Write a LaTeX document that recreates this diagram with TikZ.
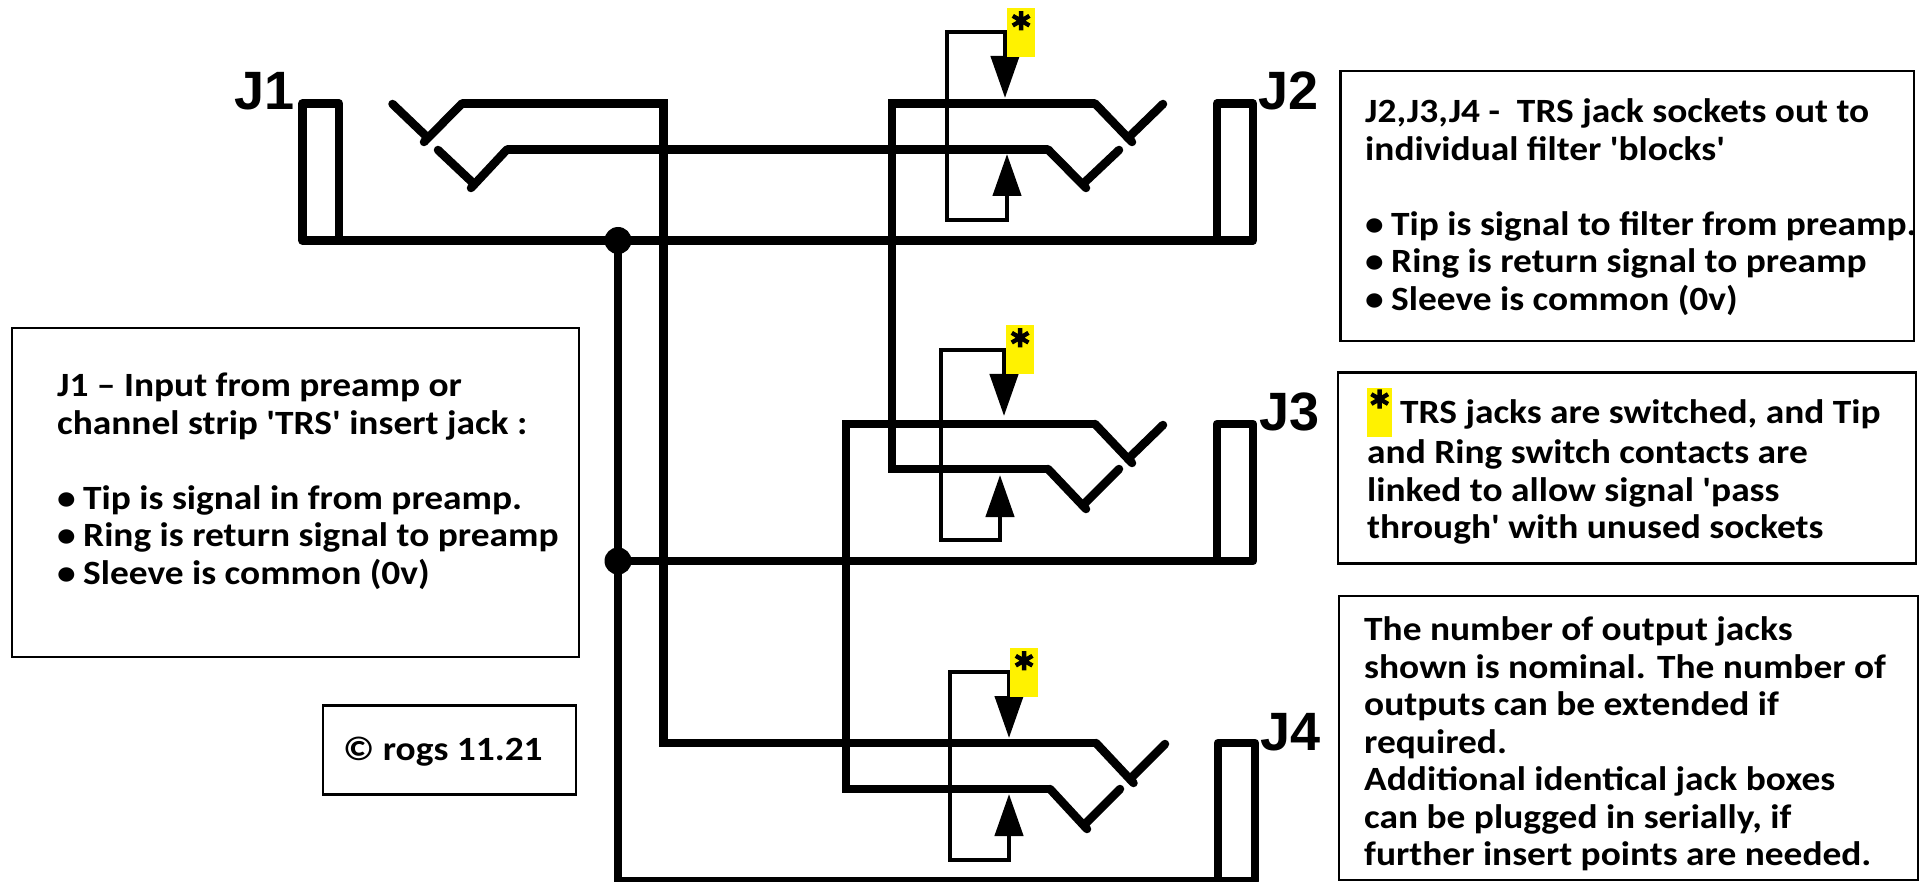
\documentclass[tikz,border=0pt]{standalone}
\usepackage{fontspec}
\usetikzlibrary{arrows.meta}
\newfontfamily\notefont{Carlito}[FakeStretch=1.1]
\newfontfamily\flagfont{Carlito}[FakeBold=2]
\newfontfamily\jfont{Liberation Sans}
\newcommand{\bul}{\makebox[26pt][l]{•}}
\newcommand{\starmark}{\raisebox{-19pt}[0pt][0pt]{*}}
\newcommand{\inlineflag}{\rlap{\raisebox{-13pt}[0pt][0pt]{\textcolor{yellow}{\rule{25pt}{49pt}}}}\rlap{\makebox[25pt][c]{\flagfont\fontsize{56}{56}\selectfont\raisebox{-6.5pt}[0pt][0pt]{*}}}\hspace{33pt}}
\tikzset{
  wire/.style={line width=8.5pt,line join=miter,line cap=butt},
  contact/.style={line width=8.5pt,line cap=round},
  sleeve/.style={line width=8.5pt,line join=round},
  link/.style={line width=4.5pt,line join=miter,{Triangle[width=28pt,length=42pt]}-{Triangle[width=28pt,length=42pt]}},
  dot/.style={circle,fill=black,inner sep=0pt,minimum size=27pt},
  infobox/.style={draw=black,line width=2.5pt,rectangle,inner sep=0pt,outer sep=0pt,anchor=north west},
  note/.style={inner sep=0pt,anchor=north west,align=left,font=\notefont\fontsize{34}{37.5}\selectfont\bfseries},
  jlabel/.style={inner sep=0pt,anchor=base west,font=\jfont\fontsize{54}{54}\selectfont\bfseries},
  flag/.style={fill=yellow,inner sep=0pt,minimum width=25pt,minimum height=49pt,anchor=north west,font=\flagfont\fontsize{56}{56}\selectfont\bfseries}
}
\begin{document}
\begin{tikzpicture}[x=1pt,y=-1pt]
\useasboundingbox (0,0) rectangle (1930,882);
% junctions
\node[dot] (d1) at (618,240.5) {};
\node[dot] (d2) at (618,561) {};
% J1
\coordinate (j1a) at (339,240.5); \coordinate (j1b) at (339,103.5);
\coordinate (j1c) at (302.5,103.5); \coordinate (j1d) at (302.5,240.5);
\draw[sleeve] (j1a) -- (j1b) -- (j1c) -- (j1d) -- cycle;
% J2
\coordinate (j2a) at (1217,240.5); \coordinate (j2b) at (1217,103.5);
\coordinate (j2c) at (1253,103.5); \coordinate (j2d) at (1253,240.5);
\draw[sleeve] (j2a) -- (j2b) -- (j2c) -- (j2d) -- cycle;
% J3
\coordinate (j3a) at (1217,561); \coordinate (j3b) at (1217,424);
\coordinate (j3c) at (1253,424); \coordinate (j3d) at (1253,561);
\draw[sleeve] (j3a) -- (j3b) -- (j3c) -- (j3d) -- cycle;
% J4
\coordinate (j4a) at (1218,881); \coordinate (j4b) at (1218,743);
\coordinate (j4c) at (1255,743); \coordinate (j4d) at (1255,881);
\draw[sleeve] (j4a) -- (j4b) -- (j4c) -- (j4d) -- cycle;
% commons
\draw[wire] (j1a) -- (d1.center) -- (j2a);
\draw[wire] (d2.center) -- (j3a);
\coordinate (c4) at (618,881);
\draw[wire] (d1.center) -- (d2.center) -- (c4) -- (j4a);
% J1 contacts
\coordinate (j1t0) at (392.5,104); \coordinate (j1t1) at (427,137);
\coordinate (j1t2) at (424,142); \coordinate (j1t3) at (462,103.5);
\coordinate (j1r0) at (438,150); \coordinate (j1r1) at (473,183);
\coordinate (j1r2) at (471,188); \coordinate (j1r3) at (507,149.5);
\draw[contact] (j1t0) -- (j1t1); \draw[contact] (j1t2) -- (j1t3);
\draw[contact] (j1r0) -- (j1r1); \draw[contact] (j1r2) -- (j1r3);
% J2 contacts
\coordinate (j2t0) at (1095,103.5); \coordinate (j2t1) at (1132,142);
\coordinate (j2t2) at (1128,138); \coordinate (j2t3) at (1163,104);
\coordinate (j2r0) at (1048,149.5); \coordinate (j2r1) at (1086,188);
\coordinate (j2r2) at (1084,183); \coordinate (j2r3) at (1119,150);
\draw[contact] (j2t0) -- (j2t1); \draw[contact] (j2t2) -- (j2t3);
\draw[contact] (j2r0) -- (j2r1); \draw[contact] (j2r2) -- (j2r3);
% J3 contacts
\coordinate (j3t0) at (1095,424); \coordinate (j3t1) at (1132,463);
\coordinate (j3t2) at (1128,459); \coordinate (j3t3) at (1163,425);
\coordinate (j3r0) at (1048,469); \coordinate (j3r1) at (1086,509);
\coordinate (j3r2) at (1084,504); \coordinate (j3r3) at (1119,469);
\draw[contact] (j3t0) -- (j3t1); \draw[contact] (j3t2) -- (j3t3);
\draw[contact] (j3r0) -- (j3r1); \draw[contact] (j3r2) -- (j3r3);
% J4 contacts
\coordinate (j4t0) at (1096,743); \coordinate (j4t1) at (1133.5,783);
\coordinate (j4t2) at (1130,779); \coordinate (j4t3) at (1165,744);
\coordinate (j4r0) at (1050,789); \coordinate (j4r1) at (1087,829);
\coordinate (j4r2) at (1085,824); \coordinate (j4r3) at (1120,789);
\draw[contact] (j4t0) -- (j4t1); \draw[contact] (j4t2) -- (j4t3);
\draw[contact] (j4r0) -- (j4r1); \draw[contact] (j4r2) -- (j4r3);
% signal wires
\coordinate (w1) at (663.5,103.5); \coordinate (w2) at (663.5,743);
\draw[wire] (j1t3) -- (w1) -- (w2) -- (j4t0);
\draw[wire] (j1r3) -- (j2r0);
\coordinate (w3) at (892,103.5); \coordinate (w4) at (892,469);
\draw[wire] (j2t0) -- (w3) -- (w4) -- (j3r0);
\coordinate (w5) at (846,424); \coordinate (w6) at (846,789);
\draw[wire] (j3t0) -- (w5) -- (w6) -- (j4r0);
% switch links
\coordinate (s2t) at (1005,98); \coordinate (s2b) at (1007,154);
\coordinate (s2a) at (1005,32); \coordinate (s2c) at (947,32);
\coordinate (s2d) at (947,220); \coordinate (s2e) at (1007,220);
\draw[link] (s2t) -- (s2a) -- (s2c) -- (s2d) -- (s2e) -- (s2b);
\coordinate (s3t) at (1004,416); \coordinate (s3b) at (1000,475);
\coordinate (s3a) at (1004,350); \coordinate (s3c) at (941,350);
\coordinate (s3d) at (941,540); \coordinate (s3e) at (1000,540);
\draw[link] (s3t) -- (s3a) -- (s3c) -- (s3d) -- (s3e) -- (s3b);
\coordinate (s4t) at (1009,738); \coordinate (s4b) at (1009,794);
\coordinate (s4a) at (1009,672); \coordinate (s4c) at (950,672);
\coordinate (s4d) at (950,860); \coordinate (s4e) at (1009,860);
\draw[link] (s4t) -- (s4a) -- (s4c) -- (s4d) -- (s4e) -- (s4b);
% flags
\node[flag] (f2) at (1007,8) {\starmark};
\node[flag] (f3) at (1006,325) {\starmark};
\node[flag] (f4) at (1010,648) {\starmark};
% labels
\node[jlabel] (lj1) at (234,110) {J1};
\node[jlabel] (lj2) at (1258,110) {J2};
\node[jlabel] (lj3) at (1259,430) {J3};
\node[jlabel] (lj4) at (1260,750) {J4};
% boxes
\node[infobox,minimum width=573.5pt,minimum height=270pt] (b1) at (1340.5,71) {};
\node[note] (t1) at (1365,98.5) {J2,J3,J4 -\ \ TRS jack sockets out to\\individual filter 'blocks'\\[37.5pt]\bul Tip is signal to filter from preamp.\\\bul Ring is return signal to preamp\\\bul Sleeve is common (0v)};
\node[infobox,minimum width=578pt,minimum height=191pt] (b2) at (1338,372.5) {};
\node[note] (t2) at (1367,399.5) {\inlineflag TRS jacks are switched, and Tip\\[2.5pt]and Ring switch contacts are\\linked to allow signal 'pass\\through' with unused sockets};
\node[infobox,minimum width=579pt,minimum height=284pt] (b3) at (1339,596) {};
\node[note] (t3) at (1364,616.5) {The number of output jacks\\shown is nominal. The number of\\outputs can be extended if\\required.\\Additional identical jack boxes\\can be plugged in serially, if\\further insert points are needed.};
\node[infobox,minimum width=567pt,minimum height=329pt] (b4) at (12,328) {};
\node[note] (t4) at (57,373) {J1 – Input from preamp or\\channel strip 'TRS' insert jack :\\[37.5pt]\bul Tip is signal in from preamp.\\\bul Ring is return signal to preamp\\\bul Sleeve is common (0v)};
\node[infobox,minimum width=253pt,minimum height=89pt] (b5) at (323,705.5) {};
\node[note] (t5) at (343,737) {© rogs 11.21};
\end{tikzpicture}
\end{document}
